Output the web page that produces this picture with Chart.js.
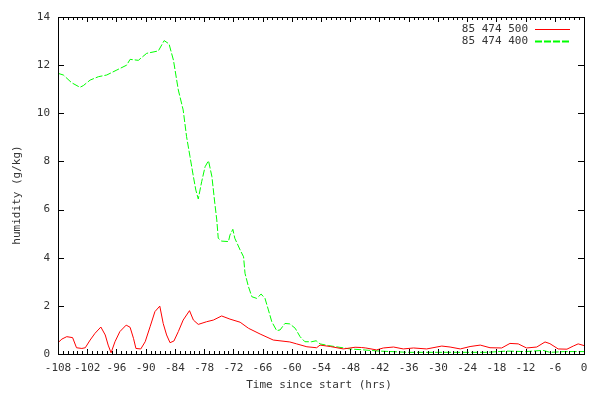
<!DOCTYPE html>
<html>
<head>
<meta charset="utf-8">
<script src="https://cdn.jsdelivr.net/npm/chart.js@4.4.1/dist/chart.umd.min.js"></script>
<style>
  html, body { margin: 0; padding: 0; background: #fff; }
  #wrap { width: 600px; height: 399px; }
</style>
</head>
<body>
<div id="wrap"><canvas id="chart_humidity"></canvas></div>
<script>
// series 85 474 500 (red)
const hours500 = [-108, -107.2, -106.2, -105, -104.2, -103.1, -102.4, -101.4, -100.4, -99.2, -98.3, -97.7, -97.1, -96.3, -95.3, -94, -93.2, -92.5, -92, -91, -90.1, -89.1, -88.1, -87.1, -86.4, -85.7, -85, -84.2, -83.3, -82.3, -81, -80.2, -79.2, -77.5, -76.1, -74.4, -72.7, -70.6, -68.9, -66.5, -63.8, -60.4, -59, -56.9, -54.9, -54.2, -52.1, -49.4, -47, -45.7, -44.8, -42.6, -41.2, -39.1, -37.1, -35, -32.3, -29.2, -27.5, -25.4, -23.4, -21.3, -19.3, -16.9, -15.2, -13.5, -11.8, -9.7, -8, -7, -5.3, -3.5, -2.2, -1.2, 0];
const hum500 = [0.47, 0.62, 0.72, 0.68, 0.26, 0.23, 0.26, 0.58, 0.86, 1.12, 0.79, 0.37, 0.05, 0.51, 0.93, 1.2, 1.11, 0.65, 0.23, 0.21, 0.51, 1.13, 1.76, 1.99, 1.27, 0.79, 0.47, 0.54, 0.93, 1.41, 1.8, 1.41, 1.23, 1.34, 1.41, 1.58, 1.45, 1.32, 1.07, 0.83, 0.58, 0.5, 0.42, 0.3, 0.26, 0.37, 0.31, 0.21, 0.28, 0.27, 0.25, 0.17, 0.25, 0.29, 0.21, 0.25, 0.21, 0.33, 0.29, 0.21, 0.31, 0.37, 0.26, 0.25, 0.44, 0.42, 0.25, 0.29, 0.5, 0.43, 0.21, 0.2, 0.33, 0.42, 0.35];

// series 85 474 400 (green)
const hours400 = [-108, -106.9, -105.2, -103.5, -102.8, -101.4, -99.7, -98, -95.9, -93.9, -93.2, -91.5, -89.8, -87.4, -86.7, -86.2, -85.2, -84.3, -83.3, -82.3, -81.6, -80.9, -80.2, -79.7, -79.2, -78.5, -77.8, -77.1, -76.4, -75.8, -75.4, -75.1, -74.4, -73, -72.7, -72.1, -71.7, -70.6, -69.9, -69.6, -68.9, -68.2, -67.2, -66.3, -65.5, -64.8, -64.1, -63.1, -62.4, -61.4, -60.4, -59.3, -58.3, -57.3, -55.9, -55, -54.2, -52.5, -48, -41.9, -36, -30, -24, -20, -15.9, -12, -8.4, -7, -4, 0];
const hum400 = [11.66, 11.59, 11.27, 11.08, 11.15, 11.38, 11.52, 11.59, 11.8, 12.0, 12.24, 12.2, 12.49, 12.59, 12.84, 13.02, 12.88, 12.21, 10.97, 10.14, 9.03, 8.2, 7.37, 6.81, 6.44, 7.16, 7.78, 8.03, 7.37, 6.26, 5.57, 4.81, 4.69, 4.67, 4.94, 5.18, 4.81, 4.32, 4.04, 3.35, 2.8, 2.38, 2.31, 2.49, 2.31, 1.83, 1.34, 0.97, 1.0, 1.27, 1.25, 1.07, 0.72, 0.51, 0.51, 0.55, 0.42, 0.35, 0.21, 0.12, 0.07, 0.07, 0.07, 0.07, 0.12, 0.1, 0.15, 0.07, 0.1, 0.1];

const seriesNames = ["85 474 500", "85 474 400"];
const xTitle = "Time since start (hrs)";
const yTitle = "humidity (g/kg)";

const toPoints = (xs, ys) => xs.map((x, i) => ({ x: x, y: ys[i] }));

const FONT = "'DejaVu Sans Mono', monospace";
const TXT = "#333";

// gnuplot-style frame: inward ticks on all four sides, axis titles, legend inside the plot
const framePlugin = {
    id: "frame",
    afterDraw(chart) {
        const ctx = chart.ctx;
        const a = chart.chartArea;
        const xs = chart.scales.x;
        const ys = chart.scales.y;
        ctx.save();
        ctx.strokeStyle = "#000";
        ctx.lineWidth = 1;
        ctx.strokeRect(Math.round(a.left) + 0.5, Math.round(a.top) + 0.5,
            Math.round(a.right - a.left), Math.round(a.bottom - a.top));
        ctx.beginPath();
        for (let h = -108; h <= 0; h += 1) {
            const px = Math.round(xs.getPixelForValue(h)) + 0.5;
            const len = h % 6 === 0 ? 5 : 3;
            ctx.moveTo(px, a.bottom);
            ctx.lineTo(px, a.bottom - len);
            ctx.moveTo(px, a.top);
            ctx.lineTo(px, a.top + len);
        }
        for (let v = 0; v <= 14; v += 2) {
            const py = Math.round(ys.getPixelForValue(v)) + 0.5;
            ctx.moveTo(a.left, py);
            ctx.lineTo(a.left + 6, py);
            ctx.moveTo(a.right, py);
            ctx.lineTo(a.right - 6, py);
        }
        ctx.stroke();

        ctx.font = "11px " + FONT;
        ctx.fillStyle = TXT;
        ctx.textBaseline = "middle";

        // axis titles
        ctx.textAlign = "center";
        ctx.fillText(xTitle, 319, 385);
        ctx.save();
        ctx.translate(17, 195);
        ctx.rotate(-Math.PI / 2);
        ctx.fillText(yTitle, 0, 0);
        ctx.restore();

        // legend
        ctx.textAlign = "right";
        chart.data.datasets.forEach((ds, i) => {
            const y = 29 + i * 12 + 0.5;
            ctx.fillText(ds.label, 528, y);
            ctx.beginPath();
            ctx.strokeStyle = ds.borderColor;
            ctx.lineWidth = i === 0 ? 1 : 2;
            ctx.setLineDash(ds.borderDash || []);
            ctx.moveTo(535, y);
            ctx.lineTo(570, y);
            ctx.stroke();
        });
        ctx.restore();
    },
};

new Chart(document.getElementById("chart_humidity"), {
    type: "line",
    data: {
        datasets: [
            {
                label: seriesNames[0],
                data: toPoints(hours500, hum500),
                borderColor: "#ff0000",
                borderWidth: 1,
                pointRadius: 0,
                tension: 0,
                fill: false,
            },
            {
                label: seriesNames[1],
                data: toPoints(hours400, hum400),
                borderColor: "#00ff00",
                borderWidth: 1,
                borderDash: [7, 2],
                pointRadius: 0,
                tension: 0,
                fill: false,
            },
        ],
    },
    options: {
        responsive: true,
        maintainAspectRatio: false,
        animation: false,
        layout: { padding: { top: 17, right: 16, left: 0, bottom: 0 } },
        plugins: {
            legend: { display: false },
            tooltip: { enabled: false },
        },
        scales: {
            x: {
                type: "linear",
                min: -108,
                max: 0,
                afterFit: (scale) => { scale.height = 45; },
                grid: { display: false, drawTicks: false },
                border: { display: false },
                ticks: {
                    stepSize: 6,
                    autoSkip: false,
                    maxRotation: 0,
                    padding: 8,
                    color: TXT,
                    font: { family: FONT, size: 11 },
                },
            },
            y: {
                min: 0,
                max: 14,
                afterFit: (scale) => { scale.width = 58; },
                grid: { display: false, drawTicks: false },
                border: { display: false },
                ticks: {
                    stepSize: 2,
                    padding: 8,
                    color: TXT,
                    font: { family: FONT, size: 11 },
                },
            },
        },
    },
    plugins: [framePlugin],
});
</script>
</body>
</html>
